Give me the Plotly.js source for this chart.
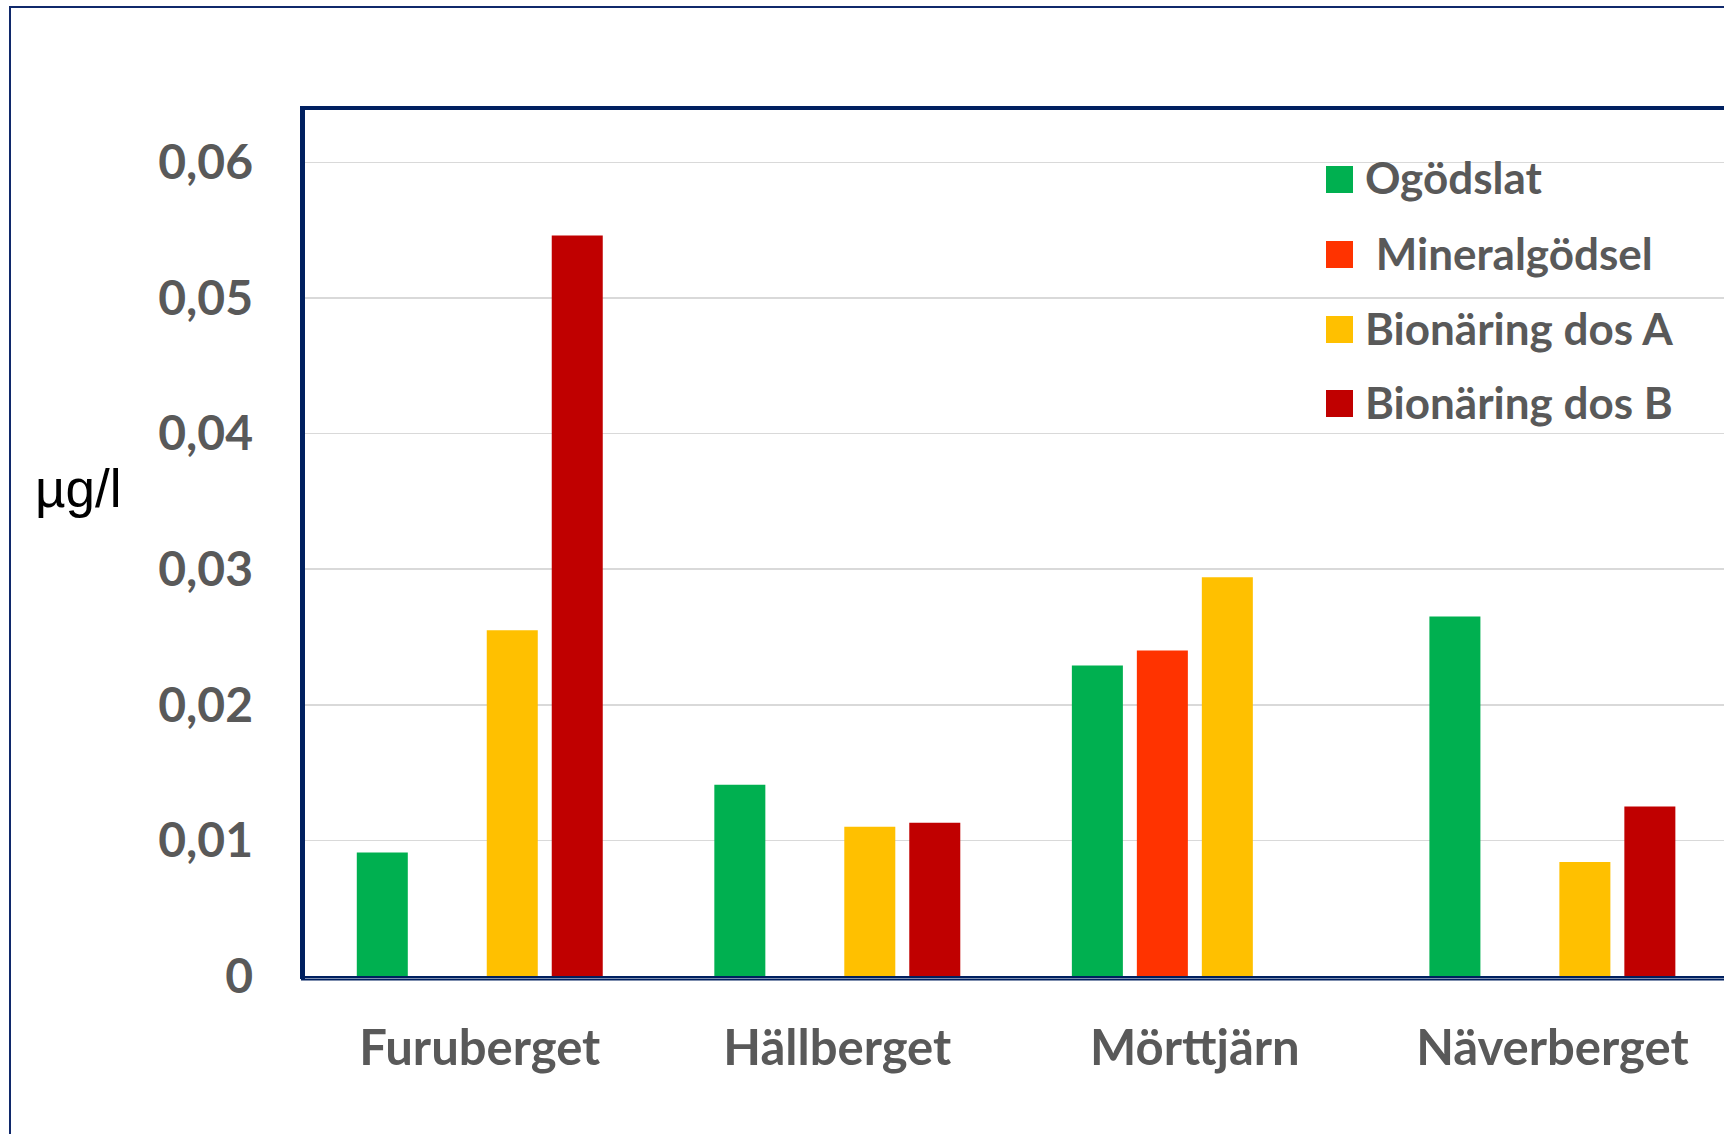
<!DOCTYPE html>
<html>
<head>
<meta charset="utf-8">
<script src="https://cdn.plot.ly/plotly-3.0.1.min.js"></script>
<style>
  html, body { margin: 0; padding: 0; background: #ffffff; overflow: hidden; }
  #chart { width: 1724px; height: 1134px; }
</style>
</head>
<body>
<div id="chart"></div>
<script>
// ---- data ----
const sites = ["Furuberget", "Hällberget", "Mörttjärn", "Näverberget"];
const seriesNames = ["Ogödslat", "Mineralgödsel", "Bionäring dos A", "Bionäring dos B"];
const ogodslat      = [0.0091, 0.0141, 0.0229, 0.0265];
const mineralgodsel = [null,   null,   0.0240, null];
const bionaringA    = [0.0255, 0.0110, 0.0294, 0.0084];
const bionaringB    = [0.0546, 0.0113, null,   0.0125];
const yTickVals     = [0, 0.01, 0.02, 0.03, 0.04, 0.05, 0.06];
const yUnit         = "µg/l";

// ---- styles ----
const colors = ["#00B050", "#FF3300", "#FFC000", "#C00000"];
const navy = "#002060";
const textGray = "#595959";
const W = 1724, H = 1134;
const M = { l: 301, r: 0, t: 108, b: 158 };
const PW = W - M.l - M.r, PH = H - M.t - M.b;
const px = x => (x - M.l) / PW;          // pixel -> paper x
const py = y => (H - M.b - y) / PH;      // pixel -> paper y

const values = [ogodslat, mineralgodsel, bionaringA, bionaringB];
const traces = values.map((v, i) => ({
  type: "bar",
  name: seriesNames[i],
  x: sites,
  y: v,
  marker: { color: colors[i], line: { width: 0 } },
  hoverinfo: "x+y+name"
}));

const shapes = [
  // outer chart border (extends past the photographed area, as in the reference)
  { type: "rect", xref: "paper", yref: "paper",
    x0: px(10), x1: px(1800), y0: py(1200), y1: py(7),
    line: { color: "#10296b", width: 2 }, fillcolor: "rgba(0,0,0,0)", layer: "below" },
  // top border of plot area
  { type: "line", xref: "paper", yref: "paper",
    x0: px(300), x1: px(1760), y0: py(108), y1: py(108),
    line: { color: navy, width: 4 } },
  // left border of plot area
  { type: "line", xref: "paper", yref: "paper",
    x0: px(302.5), x1: px(302.5), y0: py(979), y1: py(106),
    line: { color: navy, width: 5 } },
  // second line of the double bottom axis
  { type: "line", xref: "paper", yref: "paper",
    x0: px(301), x1: px(1760), y0: py(979.5), y1: py(979.5),
    line: { color: navy, width: 2 } }
];

const annotations = [
  { xref: "paper", yref: "paper", x: px(79), y: py(489),
    xanchor: "center", yanchor: "middle", showarrow: false,
    text: yUnit, font: { family: "Liberation Sans, Arial, sans-serif", size: 53, color: "#000000" } }
];

// manual legend (large square keys)
const rowTops = [166, 241, 316, 390];
seriesNames.forEach((n, i) => {
  const top = rowTops[i], size = 27;
  shapes.push({ type: "rect", xref: "paper", yref: "paper",
    x0: px(1326), x1: px(1326 + size), y0: py(top + size), y1: py(top),
    line: { width: 0 }, fillcolor: colors[i] });
  annotations.push({ xref: "paper", yref: "paper", x: px(1363), y: py(top + size / 2 - 2),
    xanchor: "left", yanchor: "middle", showarrow: false,
    text: (i === 1 ? "\u00a0" : "") + n,
    font: { family: "Lato, sans-serif", size: 44, color: textGray, weight: "bold" } });
});

const layout = {
  width: W, height: H,
  margin: M,
  paper_bgcolor: "#ffffff", plot_bgcolor: "#ffffff",
  showlegend: false,
  barmode: "group",
  bargap: 0.273,
  bargroupgap: 0.215,
  separators: ",.",
  xaxis: {
    type: "category",
    range: [-0.5, 3.48],
    showgrid: false, zeroline: false,
    showline: true, linecolor: navy, linewidth: 2,
    ticks: "", ticklabelstandoff: 28,
    tickfont: { family: "Lato, sans-serif", size: 49, color: textGray, weight: "bold" }
  },
  yaxis: {
    range: [0, 0.064],
    tickmode: "array", tickvals: yTickVals,
    ticktext: yTickVals.map(v => v === 0 ? "0" : v.toFixed(2).replace(".", ",")),
    showgrid: true, gridcolor: "#d9d9d9", gridwidth: 1.5,
    zeroline: false,
    showline: false,
    ticks: "", ticklabelstandoff: 47,
    tickfont: { family: "Lato, sans-serif", size: 48, color: textGray, weight: "bold" }
  },
  shapes: shapes,
  annotations: annotations
};

Plotly.newPlot("chart", traces, layout, { displayModeBar: false, staticPlot: true });
</script>
</body>
</html>
